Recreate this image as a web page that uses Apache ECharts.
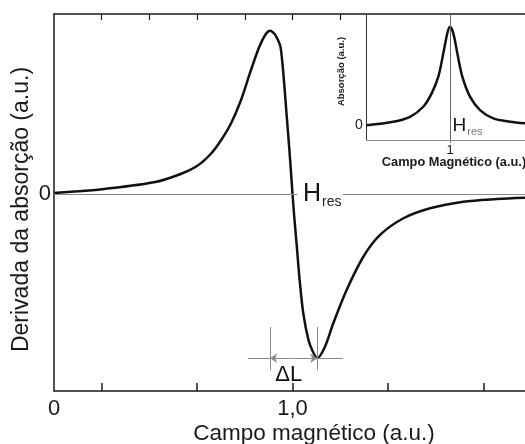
<!DOCTYPE html>
<html>
<head>
<meta charset="utf-8">
<script src="https://cdn.jsdelivr.net/npm/echarts@6/dist/echarts.min.js"></script>
<style>
  html, body { margin: 0; padding: 0; background: #fff; }
  #chart { width: 525px; height: 444px; }
</style>
</head>
<body>
<div id="chart"></div>
<script>
// derivada da absorção (curva principal)
const fieldX = [0, 0.1, 0.21, 0.419, 0.531, 0.601, 0.657, 0.699, 0.741, 0.783, 0.825, 0.86, 0.888, 0.906, 0.925, 0.937,
  0.95, 0.964, 0.975, 0.986, 0.996, 1.006, 1.018, 1.03, 1.045, 1.067, 1.086, 1.104,
  1.136, 1.171, 1.227, 1.297, 1.367, 1.465, 1.577, 1.716, 1.856, 1.975];
const derivY = [0.008, 0.018, 0.032, 0.073, 0.124, 0.174, 0.246, 0.327, 0.429, 0.571, 0.754, 0.897, 0.978, 0.998, 0.978, 0.947,
  0.898, 0.697, 0.49, 0.289, 0.087, -0.114, -0.316, -0.523, -0.724, -0.889, -0.962, -1.0,
  -0.93, -0.787, -0.584, -0.381, -0.248, -0.146, -0.085, -0.045, -0.029, -0.021];

// absorção (inset)
const insetX = [0, 0.319, 0.52, 0.679, 0.78, 0.86, 0.92, 0.968, 1.0, 1.04, 1.088, 1.148, 1.24, 1.36, 1.52, 1.72, 1.9];
const absY = [0, 0.036, 0.086, 0.188, 0.324, 0.493, 0.731, 0.934, 1.0, 0.934, 0.731, 0.493, 0.29, 0.154, 0.07, 0.036, 0.019];

const bottomTicks = [0.2, 0.6, 1.0, 1.4, 1.8];
const bottomLabels = [0, 1.0];
const topTicks = [0.2, 0.4, 0.6, 0.8, 1.0, 1.2];
const hRes = 1.0;

const font = "'Liberation Sans', Arial, sans-serif";
const ink = "#1a1a1a";
const guide = "#8a8a8a";

// posições do pico e do vale para o ΔL
let iMax = derivY.indexOf(Math.max(...derivY));
let iMin = derivY.indexOf(Math.min(...derivY));
let peakX = fieldX[iMax];
let valX = fieldX[iMin];
let valY = derivY[iMin];
let midX = (peakX + valX) / 2;

let myChart = echarts.init(document.getElementById("chart"));
let option = {
  animation: false,
  backgroundColor: "#fff",
  grid: [
    { left: 54, top: 14, width: 477, height: 377, outerBoundsMode: "none", containLabel: false },
    {
      left: 366.7, top: 15, width: 166.6, height: 125, outerBoundsMode: "none", containLabel: false,
      show: true, backgroundColor: "#fff", borderWidth: 0, z: 2,
    },
  ],
  xAxis: [
    {
      gridIndex: 0, type: "value", min: 0, max: 2, position: "bottom",
      axisLine: { onZero: false, lineStyle: { color: ink, width: 1.5 } },
      axisTick: { inside: true, length: 8, customValues: bottomTicks, lineStyle: { color: ink, width: 1.5 } },
      axisLabel: {
        customValues: bottomLabels, fontSize: 22, color: ink, fontFamily: font, margin: 7,
        formatter: (v) => (v === 0 ? "0" : v.toFixed(1).replace(".", ",")),
      },
      splitLine: { show: false },
      name: "Campo magnético (a.u.)", nameLocation: "middle", nameGap: 31, nameMoveOverlap: false,
      nameTextStyle: { fontSize: 22.5, color: ink, fontFamily: font, padding: [0, 0, 0, 43] },
    },
    {
      gridIndex: 0, type: "value", min: 0, max: 2, position: "top",
      axisLine: { onZero: false, lineStyle: { color: ink, width: 1.5 } },
      axisTick: { inside: true, length: 6, customValues: topTicks, lineStyle: { color: ink, width: 1.2 } },
      axisLabel: { show: false },
      splitLine: { show: false },
    },
    {
      gridIndex: 1, type: "value", min: 0, max: 2, z: 3,
      axisLine: { onZero: false, lineStyle: { color: guide, width: 1 } },
      axisTick: { customValues: [hRes], length: 3, lineStyle: { color: guide } },
      axisLabel: { customValues: [hRes], fontSize: 13, color: ink, fontFamily: font, margin: 4 },
      splitLine: { show: false },
      name: "Campo Magnético (a.u.)", nameLocation: "middle", nameGap: 16, nameMoveOverlap: false,
      nameTextStyle: { fontSize: 12.8, fontWeight: "bold", color: ink, fontFamily: font, padding: [0, 0, 0, 8] },
    },
  ],
  yAxis: [
    {
      gridIndex: 0, type: "value", min: -1.2, max: 1.1,
      axisLine: { show: true, onZero: false, lineStyle: { color: ink, width: 1.5 } },
      axisTick: { show: false },
      axisLabel: { customValues: [0], fontSize: 22, color: ink, fontFamily: font, margin: 3 },
      splitLine: { show: false },
      name: "Derivada da absorção (a.u.)", nameLocation: "middle", nameGap: 21, nameMoveOverlap: false,
      nameTextStyle: { fontSize: 23, color: ink, fontFamily: font, padding: [0, 14, 0, 0] },
    },
    {
      gridIndex: 1, type: "value", min: -0.15, max: 1.12, z: 3,
      axisLine: { show: true, onZero: false, lineStyle: { color: "#333", width: 1 } },
      axisTick: { show: false },
      axisLabel: { customValues: [0], fontSize: 14, color: ink, fontFamily: font, margin: 4 },
      splitLine: { show: false },
      name: "Absorção (a.u.)", nameLocation: "middle", nameGap: 20, nameMoveOverlap: false,
      nameTextStyle: { fontSize: 9.5, fontWeight: "bold", color: ink, fontFamily: font, padding: [0, 0, 0, 12] },
    },
  ],
  series: [
    {
      name: "derivada",
      type: "line",
      xAxisIndex: 0, yAxisIndex: 0,
      data: fieldX.map((x, i) => [x, derivY[i]]),
      smooth: 0.3,
      showSymbol: false,
      lineStyle: { color: "#111", width: 2.5 },
      z: 3,
      markLine: {
        silent: true, symbol: "none", symbolSize: 7,
        label: { show: false },
        lineStyle: { color: guide, width: 1, type: "solid" },
        data: [
          [{ coord: [0, 0] }, { coord: [1.02, 0] }],
          [{ coord: [1.21, 0] }, { coord: [2, 0] }],
          [{ coord: [peakX, -0.81] }, { coord: [peakX, -1.073] }],
          [{ coord: [valX, -0.81] }, { coord: [valX, -1.073] }],
          [{ coord: [0.813, valY] }, { coord: [peakX, valY] }],
          [{ coord: [valX, valY] }, { coord: [1.212, valY] }],
          [{ coord: [midX, valY], symbol: "none" }, { coord: [peakX, valY], symbol: "arrow" }],
          [{ coord: [midX, valY], symbol: "none" }, { coord: [valX, valY], symbol: "arrow" }],
        ],
      },
      markPoint: {
        silent: true, symbol: "circle", symbolSize: 1,
        itemStyle: { color: "rgba(0,0,0,0)" },
        data: [
          {
            coord: [hRes, 0],
            label: {
              show: true, position: "right", distance: 10, offset: [0, 1],
              formatter: "{h|H}{s|res}",
              rich: {
                h: { fontSize: 25, color: "#111", fontFamily: font, verticalAlign: "bottom", padding: [0, 1, 3, 0] },
                s: { fontSize: 14, color: "#222", fontFamily: font, verticalAlign: "bottom" },
              },
            },
          },
          {
            coord: [midX, valY],
            label: {
              show: true, position: "bottom", distance: 5, offset: [-5, 0],
              formatter: "ΔL", fontSize: 22, color: "#111", fontFamily: font,
            },
          },
        ],
      },
    },
    {
      name: "absorção",
      type: "line",
      xAxisIndex: 2, yAxisIndex: 1,
      data: insetX.map((x, i) => [x, absY[i]]),
      smooth: 0.3,
      showSymbol: false,
      lineStyle: { color: "#111", width: 2.5 },
      z: 4,
      markLine: {
        silent: true, symbol: "none",
        label: { show: false },
        lineStyle: { color: "#666", width: 1, type: "solid" },
        data: [{ xAxis: hRes }],
      },
      markPoint: {
        silent: true, symbol: "circle", symbolSize: 1,
        itemStyle: { color: "rgba(0,0,0,0)" },
        data: [
          {
            coord: [hRes, -0.02],
            label: {
              show: true, position: "right", distance: 2,
              formatter: "{h|H}{s|res}",
              rich: {
                h: { fontSize: 19, color: "#111", fontFamily: font, verticalAlign: "bottom", padding: [0, 1, 2, 0] },
                s: { fontSize: 11, color: "#777", fontFamily: font, verticalAlign: "bottom" },
              },
            },
          },
        ],
      },
    },
  ],
};
myChart.setOption(option);
</script>
</body>
</html>
